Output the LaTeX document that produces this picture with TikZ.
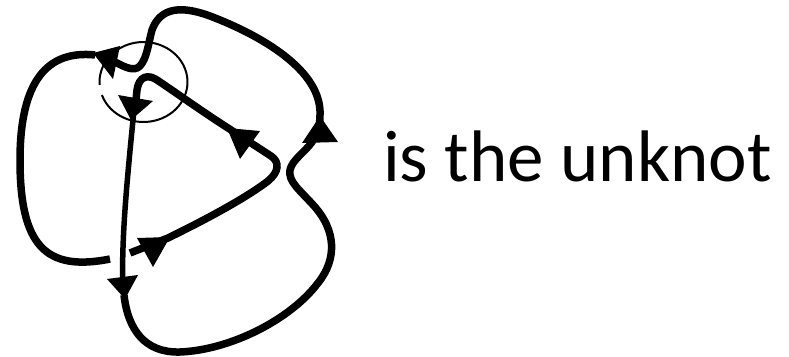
\documentclass[tikz,border=0pt]{standalone}
\usepackage{fontspec}
\newfontfamily\labelfont{Carlito}
\begin{document}
\begin{tikzpicture}[x=1pt,y=-1pt,
  strand/.style={line width=7.5pt,line join=round},
  thinstrand/.style={line width=5.5pt,line join=round},
  arrowtri/.style={fill=black,draw=none},
  ring/.style={line width=2pt}]
\useasboundingbox (0,0) rectangle (789,356);
% circle around the crossing region
\draw[ring] (143.5,82) ++(199:44 and -40) arc[start angle=199,end angle=544,x radius=44,y radius=-40];
% left loop
\draw[strand] (95,55) .. controls (48,50) and (20,80) .. (20,160)
  .. controls (20,245) and (45,272) .. (110,259);
% lower diagonal, turn, upper diagonal, hook
\draw[strand] (130,253) -- (168,238) .. controls (215,215) and (250,195) .. (268,181)
  .. controls (279,172) and (280,162) .. (271,156)
  -- (228,128) .. controls (200,110) and (175,92) .. (157,80)
  .. controls (148,74) and (139,76) .. (137,90) -- (136,100);
% vertical strand
\draw[thinstrand] (135,100) .. controls (127,180) and (121,240) .. (123,290);
% bottom loop, right side, top arc
\draw[strand] (124,295) .. controls (128,330) and (145,353) .. (180,352)
  .. controls (230,350) and (290,320) .. (318,283)
  .. controls (338,258) and (335,230) .. (315,207)
  .. controls (300,190) and (288,182) .. (290,170)
  .. controls (292,160) and (305,152) .. (312,142)
  .. controls (318,132) and (320,125) .. (320,115)
  .. controls (322,70) and (260,35) .. (210,16)
  .. controls (180,5) and (160,8) .. (152,30)
  .. controls (148,45) and (147,58) .. (140,66)
  .. controls (134,72) and (125,67) .. (117,63) -- (105,58);
% arrowheads
\fill[arrowtri] (93,53) -- (120,46) -- (113,79) -- cycle;
\fill[arrowtri] (131,120) -- (118,95) -- (153,101) -- cycle;
\fill[arrowtri] (125,299) -- (107,279) -- (138,275) -- cycle;
\fill[arrowtri] (170,237) -- (137,238) -- (153,267) -- cycle;
\fill[arrowtri] (227,128) -- (260,131) -- (240,159) -- cycle;
\fill[arrowtri] (320,116) -- (302,143) -- (338,142) -- cycle;
% label
\node[anchor=base west,inner sep=0pt,font=\labelfont\fontsize{73}{80}\selectfont] (lbl) at (383,181) {is the unknot};
\end{tikzpicture}
\end{document}
